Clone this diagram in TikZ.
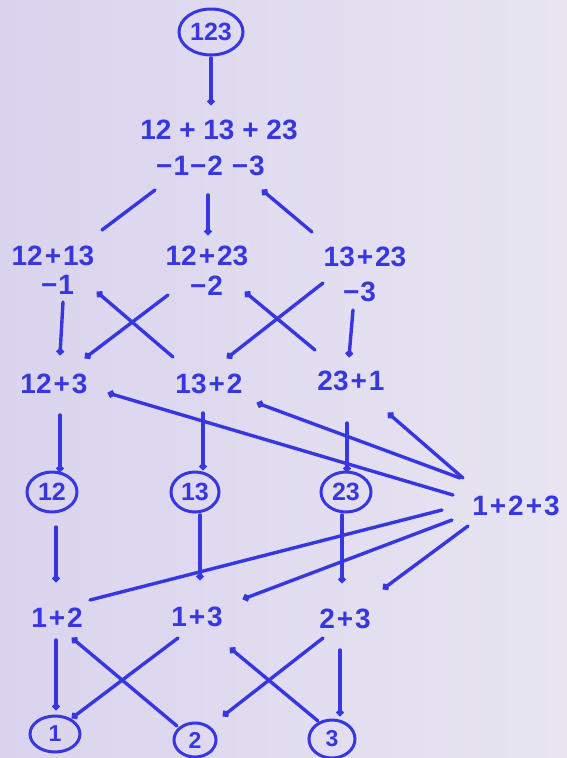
\documentclass[tikz,border=0pt]{standalone}
\usepackage{fontspec}
\setmainfont{Liberation Sans}
\usetikzlibrary{arrows.meta,calc,shapes.geometric}
\definecolor{ink}{RGB}{55,55,225}
\definecolor{paperL}{RGB}{218,211,238}
\definecolor{paperR}{RGB}{232,229,241}
\tikzset{
  lbl/.style={text=ink, font=\fontsize{28}{30}\selectfont\bfseries, inner sep=0pt},
  ring/.style={draw=ink, line width=3pt, ellipse, inner sep=0pt, text=ink,
               font=\fontsize{25}{27}\selectfont\bfseries},
  smallring/.style={ring, font=\fontsize{23}{25}\selectfont\bfseries},
  conn/.style={draw=ink, line width=3.4pt, line cap=round},
  dotend/.style={conn, -{Circle[length=7pt]}},
}
\newcommand\pl{\hspace{2pt}+\hspace{2pt}}
\newcommand\mn{\hspace{1pt}−\hspace{1pt}}
% \wire[style]{from}{offset}{to}{offset}
\newcommand\wire[5][conn]{\draw[#1] ($(#2)+(#3)$) -- ($(#4)+(#5)$);}
\begin{document}
\begin{tikzpicture}[x=1pt,y=-1pt]
\shade[left color=paperL, right color=paperR] (0,0) rectangle (567,758);
\useasboundingbox (0,0) rectangle (567,758);

% top
\node[ring, minimum width=64pt, minimum height=46pt] (c123) at (211,32) {123};
\node[lbl] (tA) at (219,130) {12 + 13 + 23};
\node[lbl] (tB) at (210,166) {\mn1\mn2 \mn3};

% pairs of two-block partitions
\node[lbl] (a1)  at (53,256)  {12\pl13};
\node[lbl] (a1m) at (57,285)  {\mn1};
\node[lbl] (b1)  at (207,256) {12\pl23};
\node[lbl] (b1m) at (206,286) {\mn2};
\node[lbl] (c1)  at (365,257) {13\pl23};
\node[lbl] (c1m) at (359,292) {\mn3};

\node[lbl] (a2) at (54,384)  {12\pl3};
\node[lbl] (b2) at (209,384) {13\pl2};
\node[lbl] (c2) at (351,381) {23\pl1};

\node[ring, minimum width=50pt, minimum height=40pt] (e12) at (52,492)  {12};
\node[ring, minimum width=48pt, minimum height=40pt] (e13) at (195,492) {13};
\node[ring, minimum width=50pt, minimum height=40pt] (e23) at (346,492) {23};

\node[lbl] (all) at (516,506) {1\pl2\pl3};

\node[lbl] (p12) at (57,618)  {1\pl2};
\node[lbl] (p13) at (197,617) {1\pl3};
\node[lbl] (p23) at (345,619) {2\pl3};

\node[smallring, minimum width=50pt, minimum height=36pt] (s1) at (55,734)  {1};
\node[smallring, minimum width=42pt, minimum height=34pt] (s2) at (195,740) {2};
\node[smallring, minimum width=46pt, minimum height=38pt] (s3) at (332,739) {3};

% connectors
\wire[dotend]{c123}{0,26}{tA}{-8,-25}
\wire{tB}{-55,24}{a1}{49,-26}
\wire[dotend]{tB}{-2,29}{b1}{1,-21}
\wire[dotend]{c1}{-53,-25}{tB}{52,24}

\wire[dotend]{a1m}{6,17}{a2}{6,-29}
\wire[dotend]{b2}{-36,-27}{a1m}{40,7}
\wire[dotend]{b1m}{-38,9}{a2}{31,-26}
\wire[dotend]{c2}{-36,-31}{b1m}{39,6}
\wire[dotend]{c1m}{-36,-9}{b2}{18,-26}
\wire[dotend]{c1m}{-6,18}{c2}{-2,-24}

\wire[dotend]{a2}{6,31}{e12}{8,-20}
\wire[dotend]{b2}{-6,29}{e13}{8,-22}
\wire[dotend]{c2}{-4,42}{e23}{1,-20}

\wire[dotend]{all}{-63,-11}{a2}{54,9}
\wire[dotend]{all}{-56,-28}{b2}{48,19}
\wire[dotend]{all}{-53,-28}{c2}{37,32}

\wire[dotend]{e12}{4,35}{p12}{-1,-36}
\wire[dotend]{e13}{5,23}{p13}{3,-37}
\wire[dotend]{e23}{-4,23}{p23}{-3,-36}

\wire{all}{-74,4}{p12}{33,-18}
\wire[dotend]{all}{-64,14}{p13}{46,-18}
\wire[dotend]{all}{-48,20}{p23}{38,-30}

\wire[dotend]{p12}{-1,22}{s1}{1,-24}
\wire[dotend]{s2}{-18,-14}{p12}{15,20}
\wire[dotend]{p13}{-19,21}{s1}{17,-16}
\wire[dotend]{s3}{-14,-18}{p13}{33,31}
\wire[dotend]{p23}{-22,19}{s2}{28,-24}
\wire[dotend]{p23}{-5,31}{s3}{8,-23}
\end{tikzpicture}
\end{document}
